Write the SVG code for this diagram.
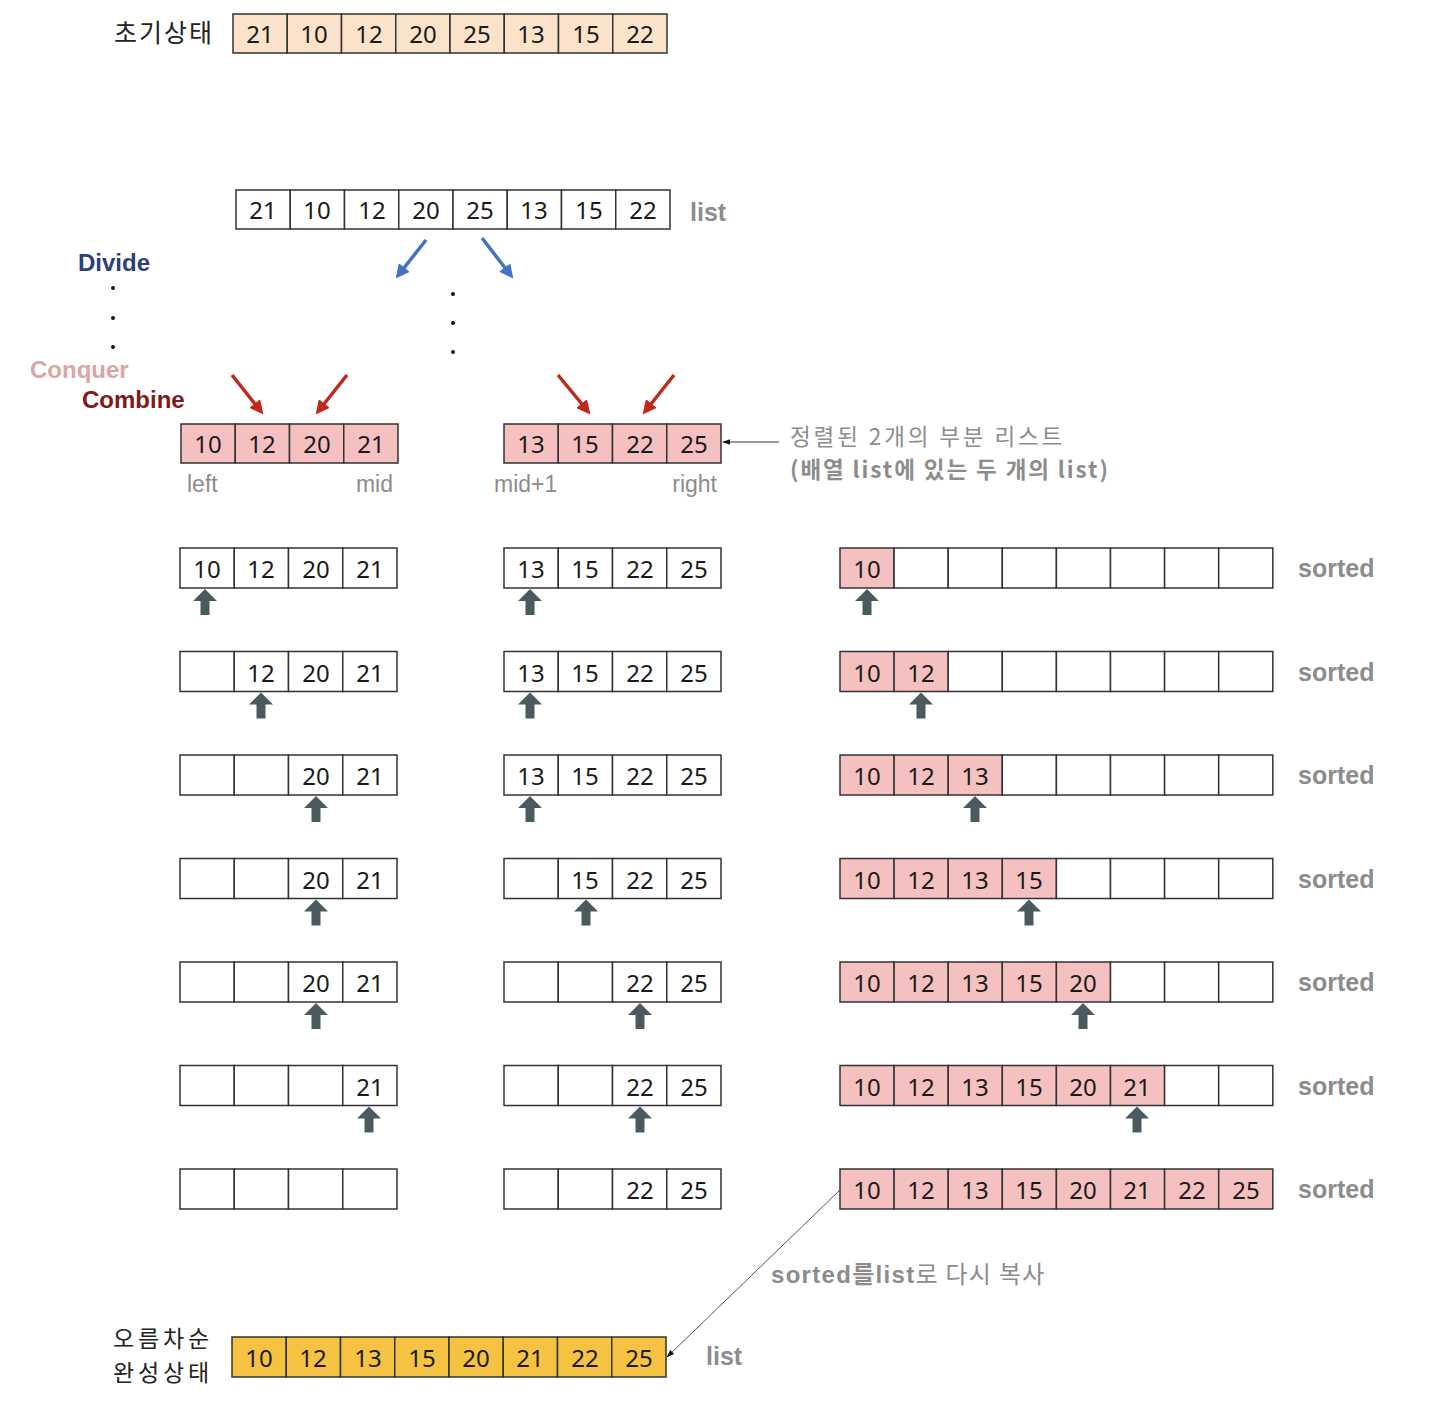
<svg xmlns="http://www.w3.org/2000/svg" xmlns:xlink="http://www.w3.org/1999/xlink" width="1440" height="1412" viewBox="0 0 1440 1412">
<style>
.c{stroke:#333;stroke-width:1.5;fill:#fff}
.p{fill:#F4C0C0}
.pe{fill:#FBE3C9}
.y{fill:#F5C242}
.n{font-family:"Noto Sans","Open Sans",sans-serif;font-size:24px;fill:#1a1a1a;text-anchor:middle}
.k{font-family:"Noto Sans CJK KR",sans-serif;font-size:25px;fill:#222;letter-spacing:2px}
.g{font-family:"Liberation Sans",Arial,sans-serif;font-size:25px;fill:#8c8c8c;font-weight:bold}
.gl{font-family:"Liberation Sans",Arial,sans-serif;font-size:23px;fill:#8c8c8c}
.gk{font-family:"Noto Sans CJK KR",sans-serif;font-size:24px;fill:#8c8c8c}
.up{fill:#4A5A5E}
</style>
<defs>
<path id="ua" d="M0,0 L12,12 L4.5,12 L4.5,26 L-4.5,26 L-4.5,12 L-12,12 Z"/>
<marker id="bh" viewBox="0 0 10 10" refX="5" refY="5" markerWidth="4" markerHeight="4" orient="auto"><path d="M0,0 L10,5 L0,10 Z" fill="#4472C4"/></marker>
<marker id="rh" viewBox="0 0 10 10" refX="5" refY="5" markerWidth="4" markerHeight="4" orient="auto"><path d="M0,0 L10,5 L0,10 Z" fill="#C0281C"/></marker>
<marker id="kh" viewBox="0 0 10 10" refX="9" refY="5" markerWidth="8" markerHeight="8" orient="auto"><path d="M0,1.5 L10,5 L0,8.5 Z" fill="#111"/></marker>
</defs>

<g id="initial">
<text class="k" x="114" y="42">초기상태</text>
<rect class="c pe" x="233" y="14" width="54.25" height="39"/><rect class="c pe" x="287.25" y="14" width="54.25" height="39"/><rect class="c pe" x="341.5" y="14" width="54.25" height="39"/><rect class="c pe" x="395.75" y="14" width="54.25" height="39"/><rect class="c pe" x="450" y="14" width="54.25" height="39"/><rect class="c pe" x="504.25" y="14" width="54.25" height="39"/><rect class="c pe" x="558.5" y="14" width="54.25" height="39"/><rect class="c pe" x="612.75" y="14" width="54.25" height="39"/>
<text class="n" x="260" y="43">21</text><text class="n" x="314" y="43">10</text><text class="n" x="369" y="43">12</text><text class="n" x="423" y="43">20</text><text class="n" x="477" y="43">25</text><text class="n" x="531" y="43">13</text><text class="n" x="586" y="43">15</text><text class="n" x="640" y="43">22</text>
</g>

<g id="list">
<rect class="c" x="236" y="190" width="54.25" height="39"/><rect class="c" x="290.25" y="190" width="54.25" height="39"/><rect class="c" x="344.5" y="190" width="54.25" height="39"/><rect class="c" x="398.75" y="190" width="54.25" height="39"/><rect class="c" x="453" y="190" width="54.25" height="39"/><rect class="c" x="507.25" y="190" width="54.25" height="39"/><rect class="c" x="561.5" y="190" width="54.25" height="39"/><rect class="c" x="615.75" y="190" width="54.25" height="39"/>
<text class="n" x="263" y="219">21</text><text class="n" x="317" y="219">10</text><text class="n" x="372" y="219">12</text><text class="n" x="426" y="219">20</text><text class="n" x="480" y="219">25</text><text class="n" x="534" y="219">13</text><text class="n" x="589" y="219">15</text><text class="n" x="643" y="219">22</text>
<text class="g" x="690" y="221">list</text>
</g>

<g id="labels">
<text x="78" y="271" style="font-family:'Liberation Sans',Arial,sans-serif;font-size:24px;font-weight:bold;fill:#2B3F78">Divide</text>
<text x="30" y="378" style="font-family:'Liberation Sans',Arial,sans-serif;font-size:24px;font-weight:bold;fill:#D9A6A6">Conquer</text>
<text x="82" y="408" style="font-family:'Liberation Sans',Arial,sans-serif;font-size:24px;font-weight:bold;fill:#7F1A1A">Combine</text>
<circle cx="113" cy="288" r="2" fill="#111"/><circle cx="113" cy="318" r="2" fill="#111"/><circle cx="113" cy="347" r="2" fill="#111"/>
<circle cx="453" cy="294" r="2" fill="#111"/><circle cx="453" cy="323" r="2" fill="#111"/><circle cx="453" cy="352" r="2" fill="#111"/>
</g>

<g id="connectors">
<line x1="426" y1="240" x2="400" y2="273" stroke="#4472C4" stroke-width="3.5" marker-end="url(#bh)"/>
<line x1="482" y1="238" x2="509" y2="273" stroke="#4472C4" stroke-width="3.5" marker-end="url(#bh)"/>
<line x1="232" y1="375" x2="259" y2="409" stroke="#C0281C" stroke-width="3.5" marker-end="url(#rh)"/>
<line x1="347" y1="375" x2="320" y2="409" stroke="#C0281C" stroke-width="3.5" marker-end="url(#rh)"/>
<line x1="558" y1="375" x2="586" y2="409" stroke="#C0281C" stroke-width="3.5" marker-end="url(#rh)"/>
<line x1="674" y1="375" x2="647" y2="409" stroke="#C0281C" stroke-width="3.5" marker-end="url(#rh)"/>
<line x1="779" y1="442" x2="723" y2="442" stroke="#333" stroke-width="1" marker-end="url(#kh)"/>
<line x1="840" y1="1190" x2="667" y2="1357" stroke="#555" stroke-width="1" marker-end="url(#kh)"/>
</g>

<g id="sublists">
<rect class="c p" x="181" y="424" width="54.25" height="39"/><rect class="c p" x="235.25" y="424" width="54.25" height="39"/><rect class="c p" x="289.5" y="424" width="54.25" height="39"/><rect class="c p" x="343.75" y="424" width="54.25" height="39"/>
<text class="n" x="208" y="453">10</text><text class="n" x="262" y="453">12</text><text class="n" x="317" y="453">20</text><text class="n" x="371" y="453">21</text>
<rect class="c p" x="504" y="424" width="54.25" height="39"/><rect class="c p" x="558.25" y="424" width="54.25" height="39"/><rect class="c p" x="612.5" y="424" width="54.25" height="39"/><rect class="c p" x="666.75" y="424" width="54.25" height="39"/>
<text class="n" x="531" y="453">13</text><text class="n" x="585" y="453">15</text><text class="n" x="640" y="453">22</text><text class="n" x="694" y="453">25</text>
<text class="gl" x="187" y="492">left</text>
<text class="gl" x="393" y="492" text-anchor="end">mid</text>
<text class="gl" x="494" y="492">mid+1</text>
<text class="gl" x="717" y="492" text-anchor="end">right</text>
<text class="gk" x="790" y="445" style="font-size:22.5px" letter-spacing="2.9">정렬된 2개의 부분 리스트</text>
<text class="gk" x="790" y="478" style="font-size:22.5px" font-weight="bold" letter-spacing="1.9">(배열 list에 있는 두 개의 list)</text>
</g>

<!-- step rows -->
<g id="row1" transform="translate(0,548)">
<rect class="c" x="180" y="0" width="54.25" height="40"/><rect class="c" x="234.25" y="0" width="54.25" height="40"/><rect class="c" x="288.5" y="0" width="54.25" height="40"/><rect class="c" x="342.75" y="0" width="54.25" height="40"/>
<rect class="c" x="504" y="0" width="54.25" height="40"/><rect class="c" x="558.25" y="0" width="54.25" height="40"/><rect class="c" x="612.5" y="0" width="54.25" height="40"/><rect class="c" x="666.75" y="0" width="54.25" height="40"/>
<rect class="c p" x="840" y="0" width="54.1" height="40"/><rect class="c" x="894.1" y="0" width="54.1" height="40"/><rect class="c" x="948.2" y="0" width="54.1" height="40"/><rect class="c" x="1002.3" y="0" width="54.1" height="40"/><rect class="c" x="1056.4" y="0" width="54.1" height="40"/><rect class="c" x="1110.5" y="0" width="54.1" height="40"/><rect class="c" x="1164.6" y="0" width="54.1" height="40"/><rect class="c" x="1218.7" y="0" width="54.1" height="40"/>
<text class="n" x="207" y="30">10</text><text class="n" x="261" y="30">12</text><text class="n" x="316" y="30">20</text><text class="n" x="370" y="30">21</text>
<text class="n" x="531" y="30">13</text><text class="n" x="585" y="30">15</text><text class="n" x="640" y="30">22</text><text class="n" x="694" y="30">25</text>
<text class="n" x="867" y="30">10</text>
<text class="g" x="1298" y="29">sorted</text>
<use href="#ua" class="up" x="205" y="41"/><use href="#ua" class="up" x="530" y="41"/><use href="#ua" class="up" x="867" y="41"/>
</g>

<g id="row2" transform="translate(0,651.5)">
<rect class="c" x="180" y="0" width="54.25" height="40"/><rect class="c" x="234.25" y="0" width="54.25" height="40"/><rect class="c" x="288.5" y="0" width="54.25" height="40"/><rect class="c" x="342.75" y="0" width="54.25" height="40"/>
<rect class="c" x="504" y="0" width="54.25" height="40"/><rect class="c" x="558.25" y="0" width="54.25" height="40"/><rect class="c" x="612.5" y="0" width="54.25" height="40"/><rect class="c" x="666.75" y="0" width="54.25" height="40"/>
<rect class="c p" x="840" y="0" width="54.1" height="40"/><rect class="c p" x="894.1" y="0" width="54.1" height="40"/><rect class="c" x="948.2" y="0" width="54.1" height="40"/><rect class="c" x="1002.3" y="0" width="54.1" height="40"/><rect class="c" x="1056.4" y="0" width="54.1" height="40"/><rect class="c" x="1110.5" y="0" width="54.1" height="40"/><rect class="c" x="1164.6" y="0" width="54.1" height="40"/><rect class="c" x="1218.7" y="0" width="54.1" height="40"/>
<text class="n" x="261" y="30">12</text><text class="n" x="316" y="30">20</text><text class="n" x="370" y="30">21</text>
<text class="n" x="531" y="30">13</text><text class="n" x="585" y="30">15</text><text class="n" x="640" y="30">22</text><text class="n" x="694" y="30">25</text>
<text class="n" x="867" y="30">10</text><text class="n" x="921" y="30">12</text>
<text class="g" x="1298" y="29">sorted</text>
<use href="#ua" class="up" x="261" y="41"/><use href="#ua" class="up" x="530" y="41"/><use href="#ua" class="up" x="921" y="41"/>
</g>

<g id="row3" transform="translate(0,755)">
<rect class="c" x="180" y="0" width="54.25" height="40"/><rect class="c" x="234.25" y="0" width="54.25" height="40"/><rect class="c" x="288.5" y="0" width="54.25" height="40"/><rect class="c" x="342.75" y="0" width="54.25" height="40"/>
<rect class="c" x="504" y="0" width="54.25" height="40"/><rect class="c" x="558.25" y="0" width="54.25" height="40"/><rect class="c" x="612.5" y="0" width="54.25" height="40"/><rect class="c" x="666.75" y="0" width="54.25" height="40"/>
<rect class="c p" x="840" y="0" width="54.1" height="40"/><rect class="c p" x="894.1" y="0" width="54.1" height="40"/><rect class="c p" x="948.2" y="0" width="54.1" height="40"/><rect class="c" x="1002.3" y="0" width="54.1" height="40"/><rect class="c" x="1056.4" y="0" width="54.1" height="40"/><rect class="c" x="1110.5" y="0" width="54.1" height="40"/><rect class="c" x="1164.6" y="0" width="54.1" height="40"/><rect class="c" x="1218.7" y="0" width="54.1" height="40"/>
<text class="n" x="316" y="30">20</text><text class="n" x="370" y="30">21</text>
<text class="n" x="531" y="30">13</text><text class="n" x="585" y="30">15</text><text class="n" x="640" y="30">22</text><text class="n" x="694" y="30">25</text>
<text class="n" x="867" y="30">10</text><text class="n" x="921" y="30">12</text><text class="n" x="975" y="30">13</text>
<text class="g" x="1298" y="29">sorted</text>
<use href="#ua" class="up" x="316" y="41"/><use href="#ua" class="up" x="530" y="41"/><use href="#ua" class="up" x="975" y="41"/>
</g>

<g id="row4" transform="translate(0,858.5)">
<rect class="c" x="180" y="0" width="54.25" height="40"/><rect class="c" x="234.25" y="0" width="54.25" height="40"/><rect class="c" x="288.5" y="0" width="54.25" height="40"/><rect class="c" x="342.75" y="0" width="54.25" height="40"/>
<rect class="c" x="504" y="0" width="54.25" height="40"/><rect class="c" x="558.25" y="0" width="54.25" height="40"/><rect class="c" x="612.5" y="0" width="54.25" height="40"/><rect class="c" x="666.75" y="0" width="54.25" height="40"/>
<rect class="c p" x="840" y="0" width="54.1" height="40"/><rect class="c p" x="894.1" y="0" width="54.1" height="40"/><rect class="c p" x="948.2" y="0" width="54.1" height="40"/><rect class="c p" x="1002.3" y="0" width="54.1" height="40"/><rect class="c" x="1056.4" y="0" width="54.1" height="40"/><rect class="c" x="1110.5" y="0" width="54.1" height="40"/><rect class="c" x="1164.6" y="0" width="54.1" height="40"/><rect class="c" x="1218.7" y="0" width="54.1" height="40"/>
<text class="n" x="316" y="30">20</text><text class="n" x="370" y="30">21</text>
<text class="n" x="585" y="30">15</text><text class="n" x="640" y="30">22</text><text class="n" x="694" y="30">25</text>
<text class="n" x="867" y="30">10</text><text class="n" x="921" y="30">12</text><text class="n" x="975" y="30">13</text><text class="n" x="1029" y="30">15</text>
<text class="g" x="1298" y="29">sorted</text>
<use href="#ua" class="up" x="316" y="41"/><use href="#ua" class="up" x="586" y="41"/><use href="#ua" class="up" x="1029" y="41"/>
</g>

<g id="row5" transform="translate(0,962)">
<rect class="c" x="180" y="0" width="54.25" height="40"/><rect class="c" x="234.25" y="0" width="54.25" height="40"/><rect class="c" x="288.5" y="0" width="54.25" height="40"/><rect class="c" x="342.75" y="0" width="54.25" height="40"/>
<rect class="c" x="504" y="0" width="54.25" height="40"/><rect class="c" x="558.25" y="0" width="54.25" height="40"/><rect class="c" x="612.5" y="0" width="54.25" height="40"/><rect class="c" x="666.75" y="0" width="54.25" height="40"/>
<rect class="c p" x="840" y="0" width="54.1" height="40"/><rect class="c p" x="894.1" y="0" width="54.1" height="40"/><rect class="c p" x="948.2" y="0" width="54.1" height="40"/><rect class="c p" x="1002.3" y="0" width="54.1" height="40"/><rect class="c p" x="1056.4" y="0" width="54.1" height="40"/><rect class="c" x="1110.5" y="0" width="54.1" height="40"/><rect class="c" x="1164.6" y="0" width="54.1" height="40"/><rect class="c" x="1218.7" y="0" width="54.1" height="40"/>
<text class="n" x="316" y="30">20</text><text class="n" x="370" y="30">21</text>
<text class="n" x="640" y="30">22</text><text class="n" x="694" y="30">25</text>
<text class="n" x="867" y="30">10</text><text class="n" x="921" y="30">12</text><text class="n" x="975" y="30">13</text><text class="n" x="1029" y="30">15</text><text class="n" x="1083" y="30">20</text>
<text class="g" x="1298" y="29">sorted</text>
<use href="#ua" class="up" x="316" y="41"/><use href="#ua" class="up" x="640" y="41"/><use href="#ua" class="up" x="1083" y="41"/>
</g>

<g id="row6" transform="translate(0,1065.5)">
<rect class="c" x="180" y="0" width="54.25" height="40"/><rect class="c" x="234.25" y="0" width="54.25" height="40"/><rect class="c" x="288.5" y="0" width="54.25" height="40"/><rect class="c" x="342.75" y="0" width="54.25" height="40"/>
<rect class="c" x="504" y="0" width="54.25" height="40"/><rect class="c" x="558.25" y="0" width="54.25" height="40"/><rect class="c" x="612.5" y="0" width="54.25" height="40"/><rect class="c" x="666.75" y="0" width="54.25" height="40"/>
<rect class="c p" x="840" y="0" width="54.1" height="40"/><rect class="c p" x="894.1" y="0" width="54.1" height="40"/><rect class="c p" x="948.2" y="0" width="54.1" height="40"/><rect class="c p" x="1002.3" y="0" width="54.1" height="40"/><rect class="c p" x="1056.4" y="0" width="54.1" height="40"/><rect class="c p" x="1110.5" y="0" width="54.1" height="40"/><rect class="c" x="1164.6" y="0" width="54.1" height="40"/><rect class="c" x="1218.7" y="0" width="54.1" height="40"/>
<text class="n" x="370" y="30">21</text>
<text class="n" x="640" y="30">22</text><text class="n" x="694" y="30">25</text>
<text class="n" x="867" y="30">10</text><text class="n" x="921" y="30">12</text><text class="n" x="975" y="30">13</text><text class="n" x="1029" y="30">15</text><text class="n" x="1083" y="30">20</text><text class="n" x="1137" y="30">21</text>
<text class="g" x="1298" y="29">sorted</text>
<use href="#ua" class="up" x="369" y="41"/><use href="#ua" class="up" x="640" y="41"/><use href="#ua" class="up" x="1137" y="41"/>
</g>

<g id="row7" transform="translate(0,1169)">
<rect class="c" x="180" y="0" width="54.25" height="40"/><rect class="c" x="234.25" y="0" width="54.25" height="40"/><rect class="c" x="288.5" y="0" width="54.25" height="40"/><rect class="c" x="342.75" y="0" width="54.25" height="40"/>
<rect class="c" x="504" y="0" width="54.25" height="40"/><rect class="c" x="558.25" y="0" width="54.25" height="40"/><rect class="c" x="612.5" y="0" width="54.25" height="40"/><rect class="c" x="666.75" y="0" width="54.25" height="40"/>
<rect class="c p" x="840" y="0" width="54.1" height="40"/><rect class="c p" x="894.1" y="0" width="54.1" height="40"/><rect class="c p" x="948.2" y="0" width="54.1" height="40"/><rect class="c p" x="1002.3" y="0" width="54.1" height="40"/><rect class="c p" x="1056.4" y="0" width="54.1" height="40"/><rect class="c p" x="1110.5" y="0" width="54.1" height="40"/><rect class="c p" x="1164.6" y="0" width="54.1" height="40"/><rect class="c p" x="1218.7" y="0" width="54.1" height="40"/>
<text class="n" x="640" y="30">22</text><text class="n" x="694" y="30">25</text>
<text class="n" x="867" y="30">10</text><text class="n" x="921" y="30">12</text><text class="n" x="975" y="30">13</text><text class="n" x="1029" y="30">15</text><text class="n" x="1083" y="30">20</text><text class="n" x="1137" y="30">21</text><text class="n" x="1192" y="30">22</text><text class="n" x="1246" y="30">25</text>
<text class="g" x="1298" y="29">sorted</text>
</g>

<g id="copy-label">
<text x="771" y="1283" letter-spacing="1.3"><tspan class="g" style="font-size:24px">sorted</tspan><tspan class="gk" font-weight="bold">를</tspan><tspan class="g" style="font-size:24px">list</tspan><tspan class="gk">로 다시 복사</tspan></text>
</g>

<g id="final">
<text class="k" x="113" y="1347" style="font-size:23px;letter-spacing:3.8px">오름차순</text>
<text class="k" x="113" y="1381" style="font-size:23px;letter-spacing:3.8px">완성상태</text>
<rect class="c y" x="232" y="1337" width="54.25" height="40"/><rect class="c y" x="286.25" y="1337" width="54.25" height="40"/><rect class="c y" x="340.5" y="1337" width="54.25" height="40"/><rect class="c y" x="394.75" y="1337" width="54.25" height="40"/><rect class="c y" x="449" y="1337" width="54.25" height="40"/><rect class="c y" x="503.25" y="1337" width="54.25" height="40"/><rect class="c y" x="557.5" y="1337" width="54.25" height="40"/><rect class="c y" x="611.75" y="1337" width="54.25" height="40"/>
<text class="n" x="259" y="1367">10</text><text class="n" x="313" y="1367">12</text><text class="n" x="368" y="1367">13</text><text class="n" x="422" y="1367">15</text><text class="n" x="476" y="1367">20</text><text class="n" x="530" y="1367">21</text><text class="n" x="585" y="1367">22</text><text class="n" x="639" y="1367">25</text>
<text class="g" x="706" y="1365">list</text>
</g>
</svg>
